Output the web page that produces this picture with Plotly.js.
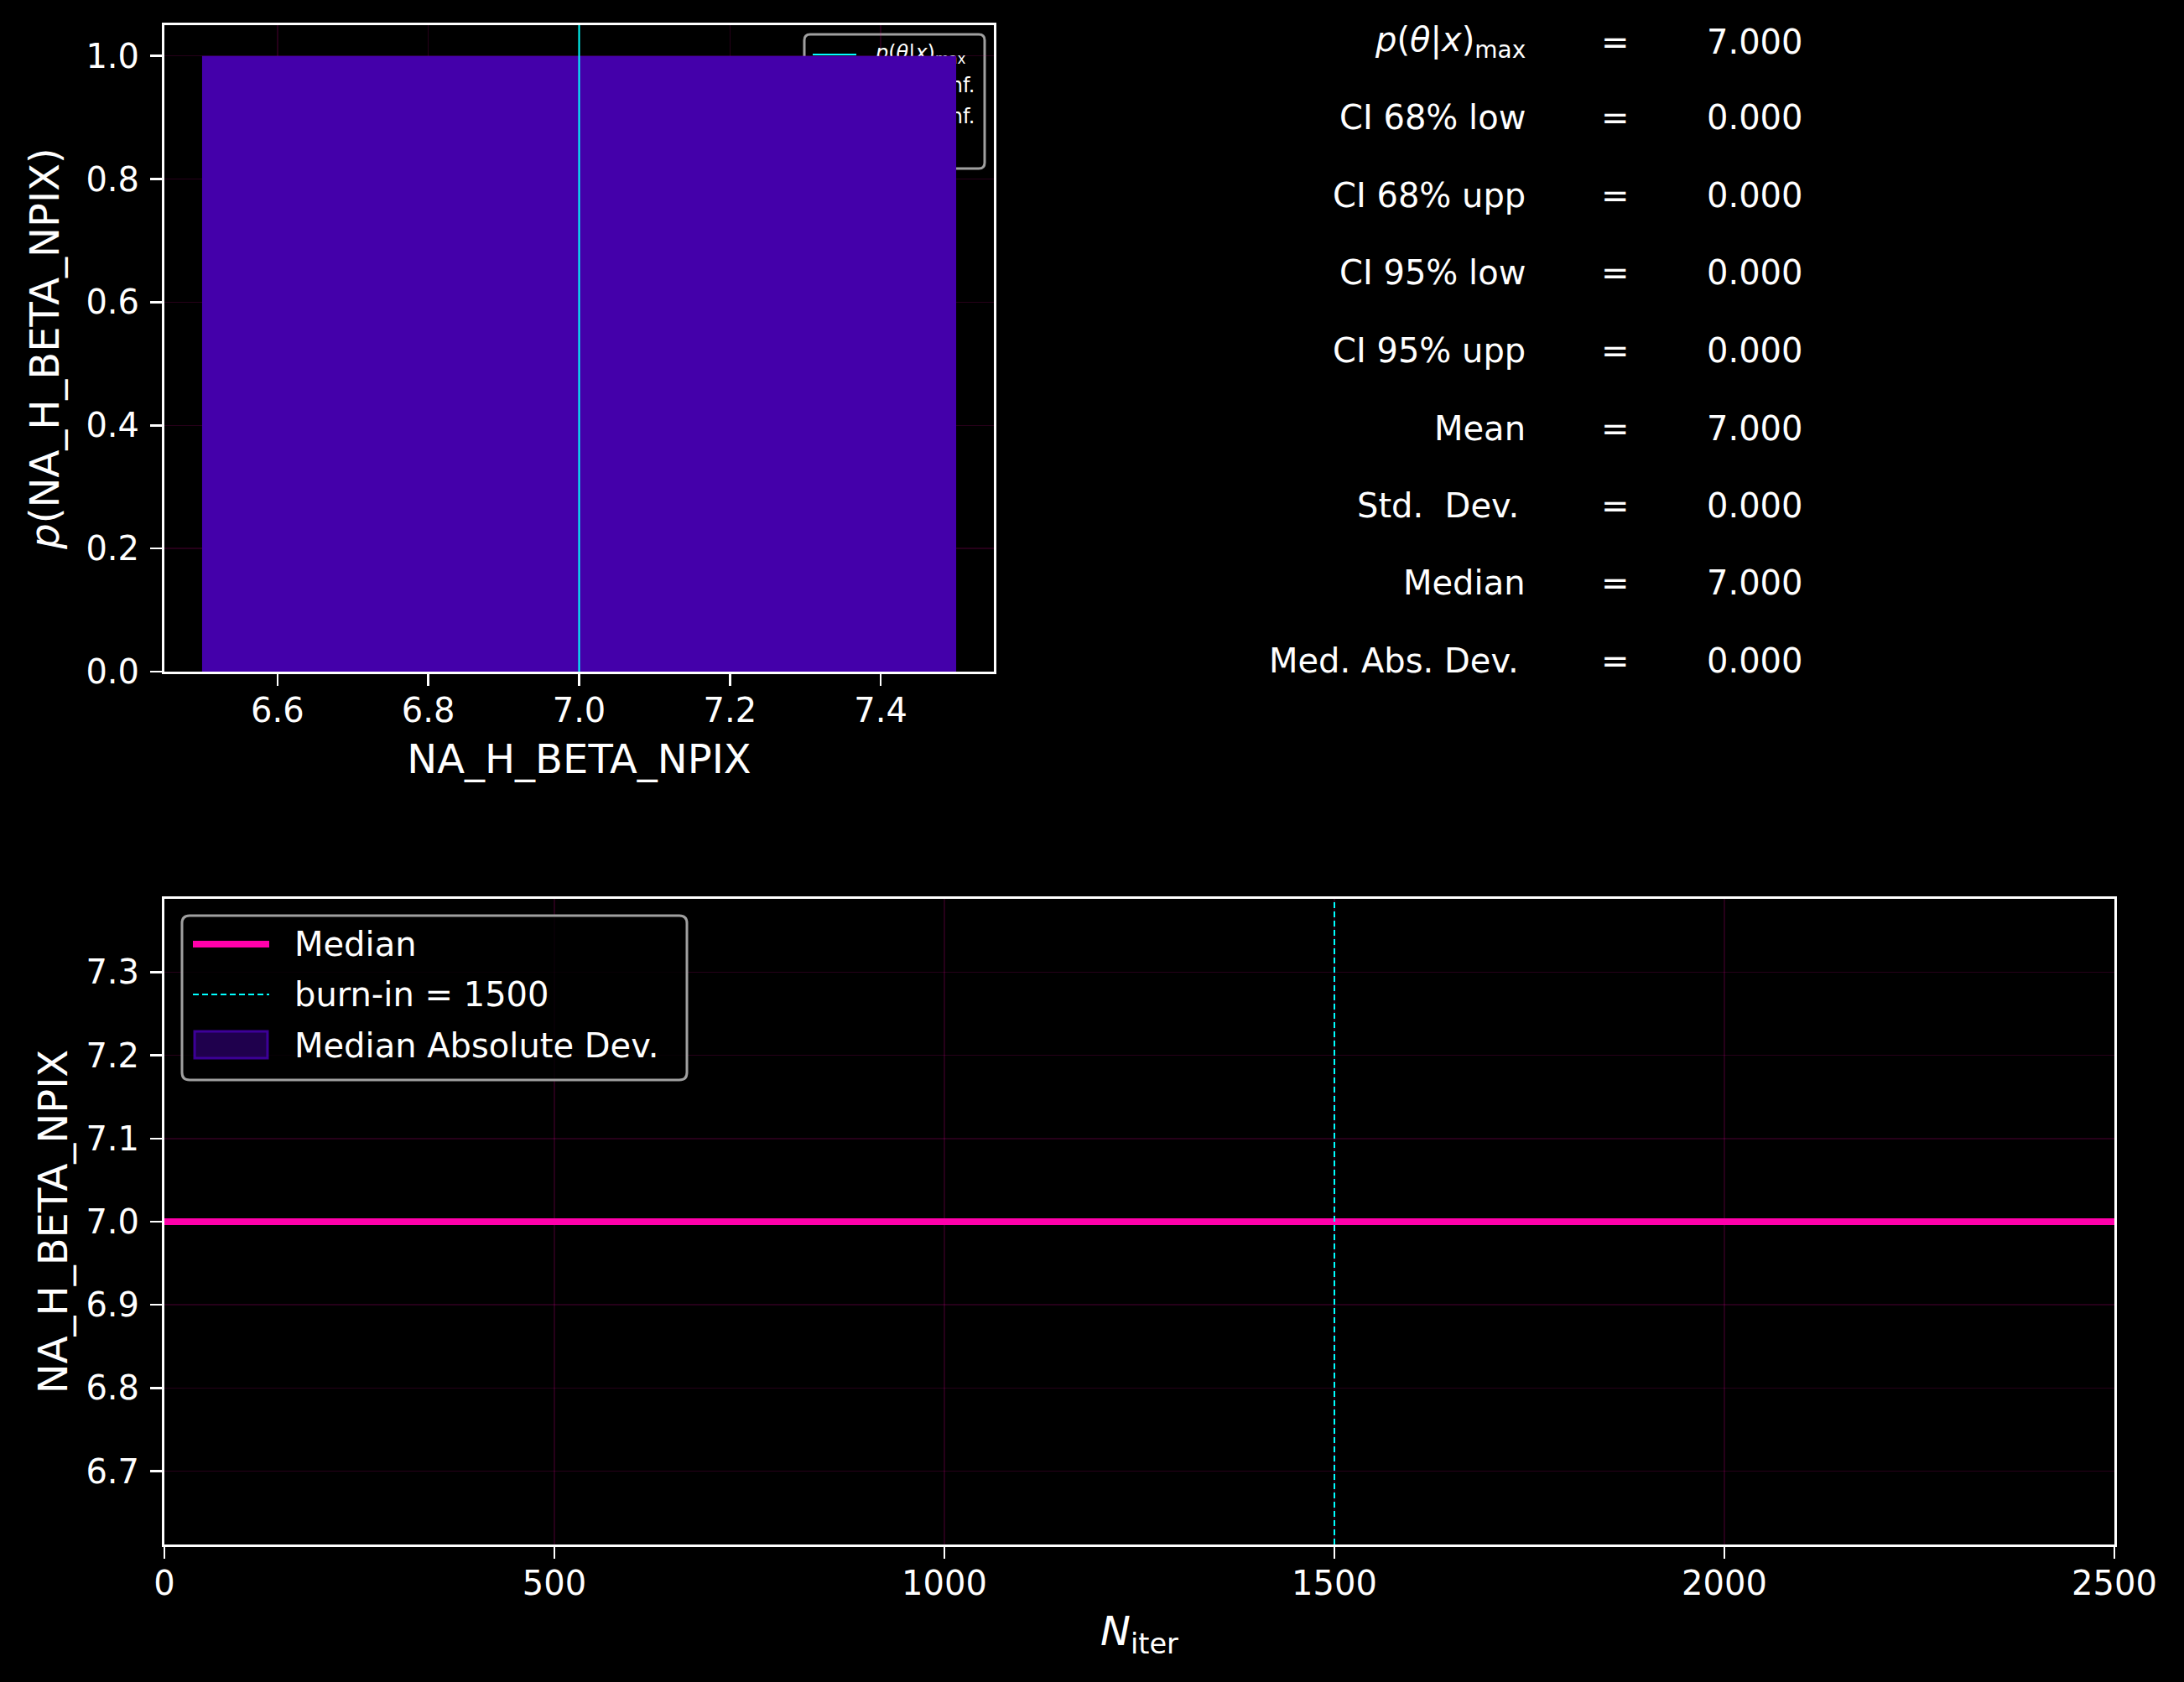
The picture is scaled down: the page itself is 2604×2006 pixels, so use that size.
<!DOCTYPE html>
<html>
<head>
<meta charset="utf-8">
<script src="https://cdn.plot.ly/plotly-3.0.1.min.js"></script>
<style>html,body{margin:0;padding:0;background:#000;overflow:hidden;}</style>
</head>
<body>
<div id="chart" style="width:2604px;height:2006px;"></div>
<script>
// ---------------- data ----------------
const paramName = 'NA_H_BETA_NPIX';
const histBinEdges = [6.5, 7.5];
const histDensity = [1.0];
const pThetaMax = 7.0;
const histXTicks = [6.6, 6.8, 7.0, 7.2, 7.4];
const histYTicks = [0.0, 0.2, 0.4, 0.6, 0.8, 1.0];
const topLegendLabels = ['<i>p</i>(<i>θ</i>|<i>x</i>)<sub>max</sub>', '68% conf.', '95% conf.'];

const statLabels = ['<i>p</i>(<i>θ</i>|<i>x</i>)<sub>max</sub>', 'CI 68% low', 'CI 68% upp', 'CI 95% low', 'CI 95% upp', 'Mean', 'Std.\u00a0 Dev.\u2009', 'Median', 'Med. Abs. Dev.\u2009'];
const statValues = [7.000, 0.000, 0.000, 0.000, 0.000, 7.000, 0.000, 7.000, 0.000];

const iterations = [0, 2500];
const medianChain = [7.0, 7.0];
const madChain = [0.0, 0.0];
const burnIn = 1500;
const chainXTicks = [0, 500, 1000, 1500, 2000, 2500];
const chainYTicks = [6.7, 6.8, 6.9, 7.0, 7.1, 7.2, 7.3];
const bottomLegendLabels = ['Median', 'burn-in = ' + burnIn, 'Median Absolute Dev.'];

// ---------------- styling / layout geometry ----------------
const W = 2604, H = 2006;
const FONT = 'DejaVu Sans, Liberation Sans, sans-serif';
const WHITE = '#ffffff';
const GRID = 'rgba(255,0,170,0.15)';
const CYAN = '#00ffff';
const MAGENTA = '#ff00aa';
const PURPLE = '#4400aa';

const TOP = {l: 196, r: 1185, t: 30, b: 801};
const BOT = {l: 196, r: 2521, t: 1072, b: 1842};
const topXRange = [6.45, 7.55];
const topYRange = [0, 1.05];
const botXRange = [0, 2500];
const botYRange = [6.612, 7.388];

const px = x => x / W;
const py = y => 1 - y / H;
const topX = x => topXRange[0] + (x - TOP.l) / (TOP.r - TOP.l) * (topXRange[1] - topXRange[0]);
const topY = y => topYRange[0] + (TOP.b - y) / (TOP.b - TOP.t) * (topYRange[1] - topYRange[0]);

function roundRect(x0, y0, x1, y1, rx, ry) {
  return `M${x0 + rx},${y0} L${x1 - rx},${y0} Q${x1},${y0} ${x1},${y0 + ry} ` +
         `L${x1},${y1 - ry} Q${x1},${y1} ${x1 - rx},${y1} L${x0 + rx},${y1} ` +
         `Q${x0},${y1} ${x0},${y1 - ry} L${x0},${y0 + ry} Q${x0},${y0} ${x0 + rx},${y0} Z`;
}

function axisBase(extra) {
  return Object.assign({
    showline: true, linecolor: WHITE, linewidth: 3, mirror: true,
    ticks: 'outside', ticklen: 14, tickwidth: 2.5, tickcolor: WHITE,
    tickfont: {family: FONT, size: 40, color: WHITE},
    showgrid: true, gridcolor: GRID, gridwidth: 1.5,
    zeroline: false, automargin: false, fixedrange: true
  }, extra);
}

// ---------------- traces ----------------
const traces = [];

// top legend (drawn beneath the histogram, as in the reference)
const legRowsY = [65, 104, 141];
const legDash = ['solid', 'dash', 'dot'];
topLegendLabels.forEach((lab, i) => {
  traces.push({
    type: 'scatter', mode: 'lines', xaxis: 'x', yaxis: 'y',
    x: [topX(969), topX(1021)], y: [topY(legRowsY[i]), topY(legRowsY[i])],
    line: {color: CYAN, width: 2, dash: legDash[i]}, showlegend: false, hoverinfo: 'skip'
  });
});
traces.push({
  type: 'scatter', mode: 'text', xaxis: 'x', yaxis: 'y',
  x: topLegendLabels.map(() => topX(1044)), y: legRowsY.map(topY),
  text: topLegendLabels, textposition: 'middle right',
  textfont: {family: FONT, size: 24, color: WHITE},
  showlegend: false, hoverinfo: 'skip'
});

// histogram (overlay subplot so it sits above the legend)
const binCenters = [], binWidths = [];
for (let i = 0; i < histDensity.length; i++) {
  binCenters.push((histBinEdges[i] + histBinEdges[i + 1]) / 2);
  binWidths.push(histBinEdges[i + 1] - histBinEdges[i]);
}
traces.push({
  type: 'bar', xaxis: 'x', yaxis: 'y3', x: binCenters, y: histDensity, width: binWidths,
  marker: {color: PURPLE, line: {width: 0}}, name: 'posterior', showlegend: false, hoverinfo: 'skip'
});

// chain plot
const madLow = medianChain.map((m, i) => m - madChain[i]);
const madUpp = medianChain.map((m, i) => m + madChain[i]);
traces.push({
  type: 'scatter', mode: 'lines', xaxis: 'x2', yaxis: 'y2', x: iterations, y: madLow,
  line: {width: 0, color: 'rgba(68,0,170,0.85)'}, showlegend: false, hoverinfo: 'skip'
});
traces.push({
  type: 'scatter', mode: 'lines', xaxis: 'x2', yaxis: 'y2', x: iterations, y: madUpp,
  fill: 'tonexty', fillcolor: 'rgba(68,0,170,0.45)',
  line: {width: 0, color: 'rgba(68,0,170,0.85)'}, name: bottomLegendLabels[2], showlegend: false, hoverinfo: 'skip'
});
traces.push({
  type: 'scatter', mode: 'lines', xaxis: 'x2', yaxis: 'y2', x: iterations, y: medianChain,
  line: {color: MAGENTA, width: 8}, name: bottomLegendLabels[0], showlegend: false, hoverinfo: 'skip'
});

// ---------------- shapes ----------------
const shapes = [];
// top legend frame (below all subplots; plot backgrounds are transparent)
shapes.push({
  type: 'path', xref: 'paper', yref: 'paper', layer: 'below',
  path: roundRect(px(959), py(201), px(1174), py(41), 7 / W, 7 / H),
  fillcolor: 'rgba(0,0,0,0.8)', line: {color: '#a0a0a0', width: 3}
});
// p(theta|x)max line
shapes.push({
  type: 'line', xref: 'x', yref: 'paper', x0: pThetaMax, x1: pThetaMax, y0: py(TOP.b), y1: py(TOP.t),
  line: {color: CYAN, width: 2}, layer: 'above'
});
// burn-in line
shapes.push({
  type: 'line', xref: 'x2', yref: 'paper', x0: burnIn, x1: burnIn, y0: py(BOT.b), y1: py(BOT.t),
  line: {color: CYAN, width: 2, dash: '7px,4px'}, layer: 'above'
});
// bottom legend box
shapes.push({
  type: 'path', xref: 'paper', yref: 'paper', layer: 'above',
  path: roundRect(px(217), py(1288), px(819), py(1092), 9 / W, 9 / H),
  fillcolor: 'rgba(0,0,0,0.8)', line: {color: '#a0a0a0', width: 3}
});
shapes.push({type: 'line', xref: 'paper', yref: 'paper', layer: 'above',
  x0: px(230), x1: px(321), y0: py(1126), y1: py(1126), line: {color: MAGENTA, width: 8}});
shapes.push({type: 'line', xref: 'paper', yref: 'paper', layer: 'above',
  x0: px(230), x1: px(321), y0: py(1186), y1: py(1186), line: {color: CYAN, width: 2, dash: '7px,4px'}});
shapes.push({type: 'rect', xref: 'paper', yref: 'paper', layer: 'above',
  x0: px(232), x1: px(319), y0: py(1262), y1: py(1230),
  fillcolor: 'rgba(68,0,170,0.45)', line: {color: 'rgba(68,0,170,0.85)', width: 3}});

// ---------------- annotations ----------------
const annotations = [];
const legY = [1126, 1186, 1247];
bottomLegendLabels.forEach((lab, i) => {
  annotations.push({xref: 'paper', yref: 'paper', x: px(349), y: py(legY[i]), xanchor: 'left', yanchor: 'middle',
    text: lab, showarrow: false, font: {family: FONT, size: 40, color: WHITE}});
});
const statRowY = [50, 140, 233, 325, 418, 511, 603, 695, 788];
statLabels.forEach((lab, i) => {
  annotations.push({xref: 'paper', yref: 'paper', x: px(1821), y: py(statRowY[i]), xanchor: 'right', yanchor: 'middle',
    text: lab, showarrow: false, font: {family: FONT, size: 40, color: WHITE}});
  annotations.push({xref: 'paper', yref: 'paper', x: px(1926), y: py(statRowY[i]), xanchor: 'center', yanchor: 'middle',
    text: '=', showarrow: false, font: {family: FONT, size: 40, color: WHITE}});
  annotations.push({xref: 'paper', yref: 'paper', x: px(2033), y: py(statRowY[i]), xanchor: 'left', yanchor: 'middle',
    text: statValues[i].toFixed(3), showarrow: false, font: {family: FONT, size: 40, color: WHITE}});
});

// ---------------- layout ----------------
const layout = {
  width: W, height: H,
  margin: {l: 0, r: 0, t: 0, b: 0, pad: 0},
  paper_bgcolor: '#000000', plot_bgcolor: 'rgba(0,0,0,0)',
  font: {family: FONT, color: WHITE},
  showlegend: false,
  xaxis: axisBase({
    domain: [px(TOP.l), px(TOP.r)], anchor: 'y', range: topXRange,
    tickmode: 'array', tickvals: histXTicks, ticktext: histXTicks.map(v => v.toFixed(1)),
    ticklabelstandoff: -5,
    title: {text: paramName, font: {family: FONT, size: 48, color: WHITE}, standoff: 20}
  }),
  yaxis: axisBase({
    domain: [py(TOP.b), py(TOP.t)], anchor: 'x', range: topYRange,
    tickmode: 'array', tickvals: histYTicks, ticktext: histYTicks.map(v => v.toFixed(1)),
    ticklabelstandoff: 5,
    title: {text: '<i>p</i>(' + paramName + ')', font: {family: FONT, size: 48, color: WHITE}, standoff: 17}
  }),
  yaxis3: {overlaying: 'y', anchor: 'x', range: topYRange, visible: false, showgrid: false,
    zeroline: false, fixedrange: true, side: 'left'},
  xaxis2: axisBase({
    domain: [px(BOT.l), px(BOT.r)], anchor: 'y2', range: botXRange,
    tickmode: 'array', tickvals: chainXTicks, ticktext: chainXTicks.map(String),
    ticklabelstandoff: -5,
    title: {text: '<i>N</i><sub>iter</sub>', font: {family: FONT, size: 48, color: WHITE}, standoff: 19}
  }),
  yaxis2: axisBase({
    domain: [py(BOT.b), py(BOT.t)], anchor: 'x2', range: botYRange,
    tickmode: 'array', tickvals: chainYTicks, ticktext: chainYTicks.map(v => v.toFixed(1)),
    ticklabelstandoff: 5,
    title: {text: paramName, font: {family: FONT, size: 48, color: WHITE}, standoff: 7}
  }),
  shapes: shapes,
  annotations: annotations
};

Plotly.newPlot('chart', traces, layout, {staticPlot: true, displayModeBar: false});
</script>
</body>
</html>
